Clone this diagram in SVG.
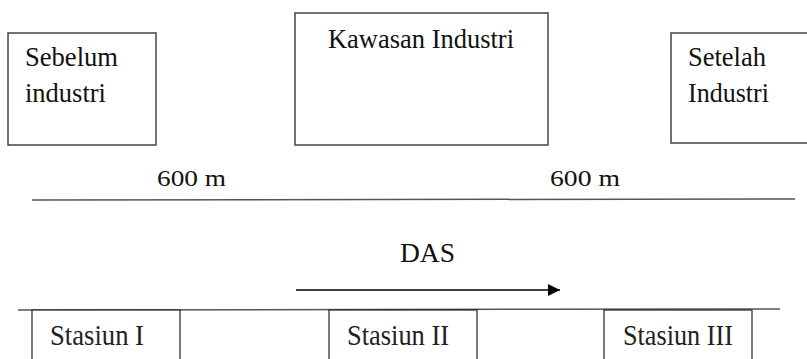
<svg xmlns="http://www.w3.org/2000/svg" width="807" height="359" viewBox="0 0 807 359">
<defs>
<style>
.box{fill:#fff;stroke:#444;stroke-width:1.5}
.sbox{fill:#fff;stroke:#222;stroke-width:1.2}
.t{font-family:"Liberation Serif","Times New Roman",serif;font-size:27px;fill:#111}
.d{font-family:"Liberation Serif","Times New Roman",serif;font-size:24px;fill:#111}
.s{font-family:"Liberation Serif","Times New Roman",serif;font-size:29px;fill:#222}
.ln{stroke:#555;stroke-width:1.5;fill:none}
</style>
<marker id="ah" viewBox="0 0 12 12" refX="12" refY="6" markerWidth="12" markerHeight="12" markerUnits="userSpaceOnUse" orient="auto">
<path d="M0,0 L12,6 L0,12 Z" fill="#000"/>
</marker>
</defs>
<g id="sebelum">
<rect class="box" x="8" y="33" width="148" height="112"/>
<text class="t" x="25" y="66" textLength="93" lengthAdjust="spacingAndGlyphs">Sebelum</text>
<text class="t" x="25" y="102" textLength="81" lengthAdjust="spacingAndGlyphs">industri</text>
</g>
<g id="kawasan">
<rect class="box" x="295" y="13" width="253" height="132"/>
<text class="t" x="328" y="48" textLength="186" lengthAdjust="spacingAndGlyphs">Kawasan Industri</text>
</g>
<g id="setelah">
<rect class="box" x="671" y="33" width="140" height="110"/>
<text class="t" x="688" y="66" textLength="78" lengthAdjust="spacingAndGlyphs">Setelah</text>
<text class="t" x="688" y="102" textLength="81" lengthAdjust="spacingAndGlyphs">Industri</text>
</g>
<g id="distance">
<text class="d" x="157" y="186" textLength="69" lengthAdjust="spacingAndGlyphs">600 m</text>
<text class="d" x="550" y="186" textLength="70" lengthAdjust="spacingAndGlyphs">600 m</text>
</g>
<g id="connectors">
<line class="ln" x1="32" y1="200" x2="795" y2="199"/>
<line x1="296" y1="290" x2="560" y2="290" stroke="#000" stroke-width="1.5" marker-end="url(#ah)"/>
<line class="ln" x1="18" y1="310" x2="780" y2="309"/>
</g>
<g id="das">
<text class="t" x="400" y="262" textLength="55" lengthAdjust="spacingAndGlyphs">DAS</text>
</g>
<g id="stasiun1">
<rect class="sbox" x="32" y="310" width="148" height="60"/>
<text class="s" x="50" y="345" textLength="94" lengthAdjust="spacingAndGlyphs">Stasiun I</text>
</g>
<g id="stasiun2">
<rect class="sbox" x="329" y="310" width="148" height="60"/>
<text class="s" x="347" y="345" textLength="102" lengthAdjust="spacingAndGlyphs">Stasiun II</text>
</g>
<g id="stasiun3">
<rect class="sbox" x="604" y="310" width="148" height="60"/>
<text class="s" x="623" y="345" textLength="110" lengthAdjust="spacingAndGlyphs">Stasiun III</text>
</g>
</svg>
